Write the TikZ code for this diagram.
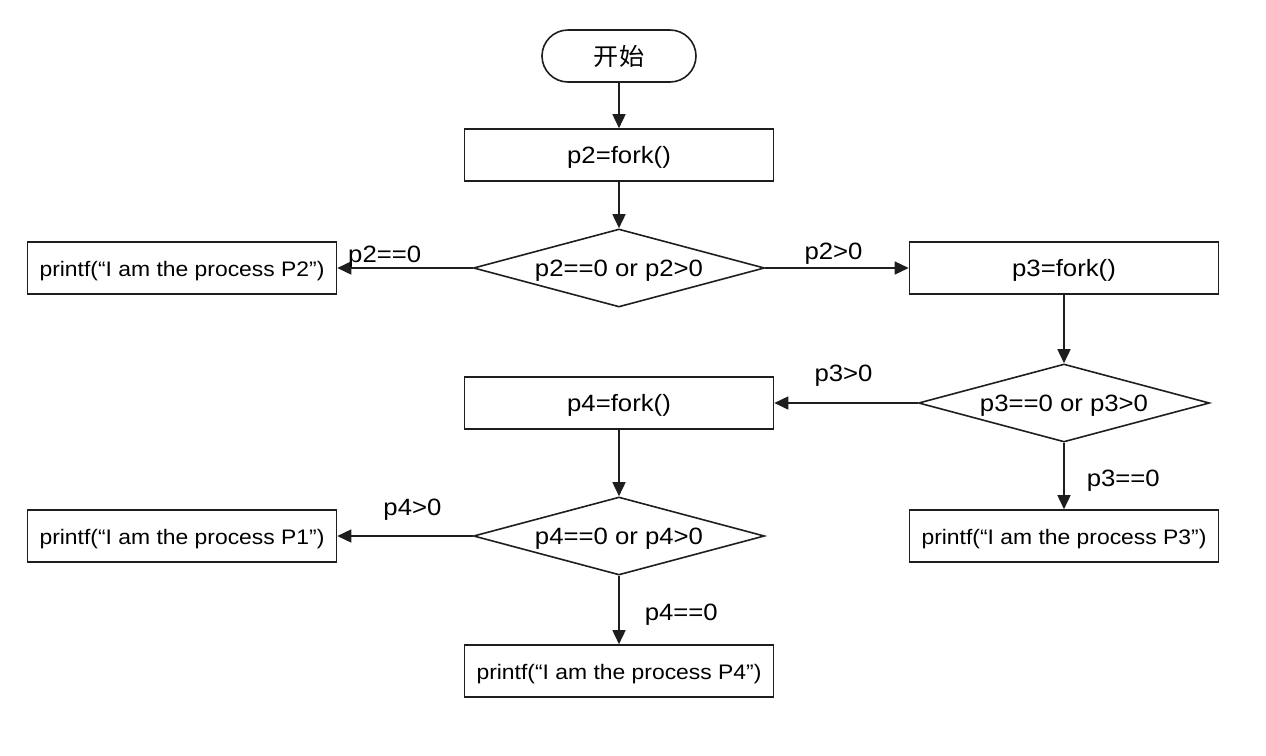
\documentclass[tikz,border=0pt]{standalone}
\usepackage{fontspec}
\setmainfont{Liberation Sans}[FakeStretch=1.09]
\newfontfamily\cjk{Noto Sans CJK SC}[FakeStretch=1.05]
\usepackage{tikz}
\usetikzlibrary{shapes,shapes.geometric,arrows.meta}
\definecolor{line2}{RGB}{30,30,30}

\begin{document}
\begin{tikzpicture}[x=0.5pt,y=-0.5pt,
	box/.style={draw=line2, line width=0.8pt, rectangle, minimum width=154.5pt, minimum height=26pt, inner sep=0pt, text height=8pt, text depth=0pt, font=\fontsize{11.8}{13}\selectfont},
	outbox/.style={box, text height=8.6pt, font=\fontsize{10.5}{12}\selectfont},
	startstop/.style={draw=line2, line width=0.8pt, rectangle, rounded corners=13pt, minimum width=77pt, minimum height=26pt, inner sep=0pt},
	decision/.style={draw=line2, line width=0.8pt, diamond, aspect=3.7, minimum width=145.5pt, minimum height=39pt, inner sep=0pt, text height=8pt, text depth=0pt, font=\fontsize{11.8}{13}\selectfont},
	flow/.style={draw=line2, line width=0.8pt, -{Triangle[width=6.5pt,length=7pt]}},
	lbl/.style={inner sep=0pt, font=\fontsize{11.8}{13}\selectfont}]
	\useasboundingbox (0,0) rectangle (1266,756);
	\newcommand \colA{619}
	\newcommand \colB{1064}
	\newcommand \colC{182}

%% Main column
	\node[startstop] (start) at (\colA,56) {\cjk\fontsize{12}{14}\selectfont\raisebox{-1pt}{开始}};
	\node[box] (fork2) at (\colA,155) {p2=fork()};
	\node[decision] (dec2) at (\colA,268) {p2==0 or p2>0};
	\node[outbox] (out2) at (\colC,268) {printf(“I am the process P2”)};
	\node[box] (fork3) at (\colB,268) {p3=fork()};
	\node[decision] (dec3) at (\colB,403) {p3==0 or p3>0};
	\node[box] (fork4) at (\colA,403) {p4=fork()};
	\node[outbox] (out3) at (\colB,536) {printf(“I am the process P3”)};
	\node[decision] (dec4) at (\colA,536) {p4==0 or p4>0};
	\node[outbox] (out1) at (\colC,536) {printf(“I am the process P1”)};
	\node[outbox] (out4) at (\colA,671) {printf(“I am the process P4”)};

%% Connectors
	\draw[flow] (start) -- (fork2);
	\draw[flow] (fork2) -- (dec2);
	\draw[flow] (dec2) -- node[lbl, pos=0.65, above=0pt]{p2==0} (out2);
	\draw[flow] (dec2) -- node[lbl, pos=0.476, above=1.5pt]{p2>0} (fork3);
	\draw[flow] (fork3) -- (dec3);
	\draw[flow] (dec3) -- node[lbl, pos=0.517, above=8pt]{p3>0} (fork4);
	\draw[flow] (dec3) -- node[lbl, pos=0.57, right=11pt]{p3==0} (out3);
	\draw[flow] (fork4) -- (dec4);
	\draw[flow] (dec4) -- node[lbl, pos=0.445, above=7.5pt]{p4>0} (out1);
	\draw[flow] (dec4) -- node[lbl, pos=0.57, right=12.5pt]{p4==0} (out4);

\end{tikzpicture}
\end{document}
